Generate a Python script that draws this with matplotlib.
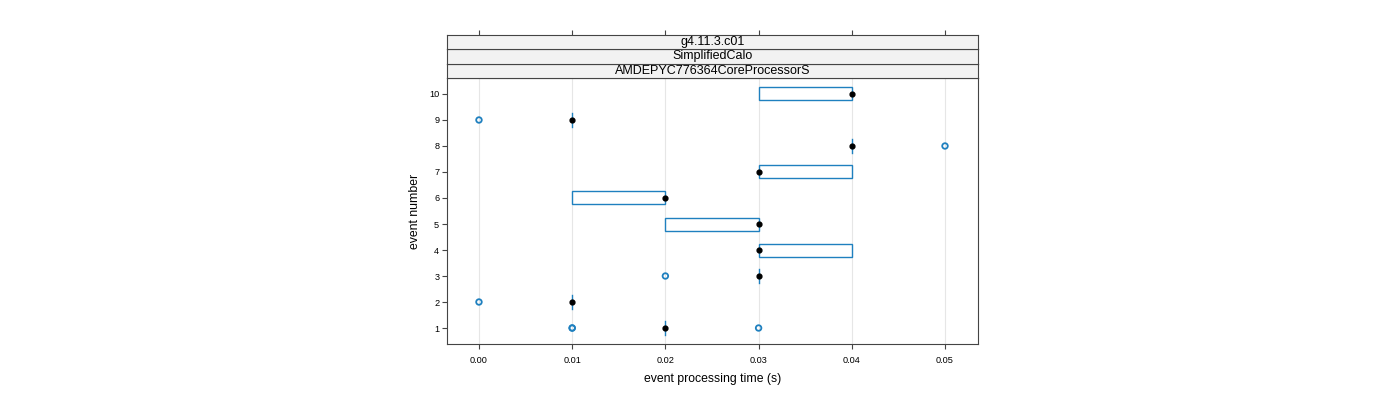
import numpy as np
import matplotlib.pyplot as plt
from matplotlib.patches import Rectangle

plt.rcParams['font.family'] = ['Liberation Sans', 'DejaVu Sans']

# per-event box statistics (seconds)
events = [1, 2, 3, 4, 5, 6, 7, 8, 9, 10]
q1 = [0.02, 0.01, 0.03, 0.03, 0.02, 0.01, 0.03, 0.04, 0.01, 0.03]
median = [0.02, 0.01, 0.03, 0.03, 0.03, 0.02, 0.03, 0.04, 0.01, 0.04]
q3 = [0.02, 0.01, 0.03, 0.04, 0.03, 0.02, 0.04, 0.04, 0.01, 0.04]
outlier_event = [1, 1, 1, 2, 3, 8, 9]
outlier_time = [0.01, 0.01, 0.03, 0.00, 0.02, 0.05, 0.00]
xticks = [0.00, 0.01, 0.02, 0.03, 0.04, 0.05]
strips = ['AMDEPYC776364CoreProcessorS', 'SimplifiedCalo', 'g4.11.3.c01']

blue = '#1f80bf'
frame = '#444444'
box_h = 0.5

fig = plt.figure(figsize=(14, 4), dpi=100)
left, right = 447 / 1400, 978 / 1400
bottom, top = 1 - 344 / 400, 1 - 78 / 400
ax = fig.add_axes([left, bottom, right - left, top - bottom])

for e, a, m, b in zip(events, q1, median, q3):
    if b > a:
        ax.add_patch(Rectangle((a, e - box_h / 2), b - a, box_h, fill=False,
                               edgecolor=blue, lw=1.0, zorder=3))
    else:
        ax.plot([a, a], [e - 0.27, e + 0.27], color=blue, lw=1.0, zorder=3)
ax.scatter(median, events, s=12, color='black', zorder=4)
ax.scatter(outlier_time, outlier_event, s=16, facecolors='none',
           edgecolors=blue, linewidths=1.3, zorder=4)

ax.set_xlim(-0.00343, 0.05354)
ax.set_ylim(0.385, 10.615)
ax.set_xticks(xticks)
ax.set_xticklabels(['%.2f' % v for v in xticks])
ax.set_yticks(events)
ax.grid(axis='x', color='#e6e6e6', lw=0.8, zorder=0)
ax.set_axisbelow(True)
ax.tick_params(axis='both', labelsize=6.6, length=3.6, width=0.8,
               color=frame)
ax.tick_params(axis='x', pad=5)
ax.tick_params(axis='y', pad=2)
for s in ax.spines.values():
    s.set_color(frame)
    s.set_linewidth(0.8)
ax.set_xlabel('event processing time (s)', fontsize=8.8, labelpad=6)
ax.set_ylabel('event number', fontsize=8.8, labelpad=6)

# strips
strip_h = 14.5 / 400
for i, label in enumerate(strips):
    sax = fig.add_axes([left, top + i * strip_h, right - left, strip_h],
                       sharex=ax)
    sax.set_facecolor('#f2f2f2')
    sax.set_yticks([])
    sax.text(0.5, 0.5, label, transform=sax.transAxes, ha='center',
             va='center', fontsize=9)
    for s in sax.spines.values():
        s.set_color(frame)
        s.set_linewidth(0.8)
    if i == len(strips) - 1:
        sax.tick_params(axis='x', bottom=False, labelbottom=False, top=True,
                        labeltop=False, length=3.6, width=0.8, color=frame)
    else:
        sax.tick_params(axis='x', bottom=False, labelbottom=False)

fig.savefig('out.png', dpi=100)
